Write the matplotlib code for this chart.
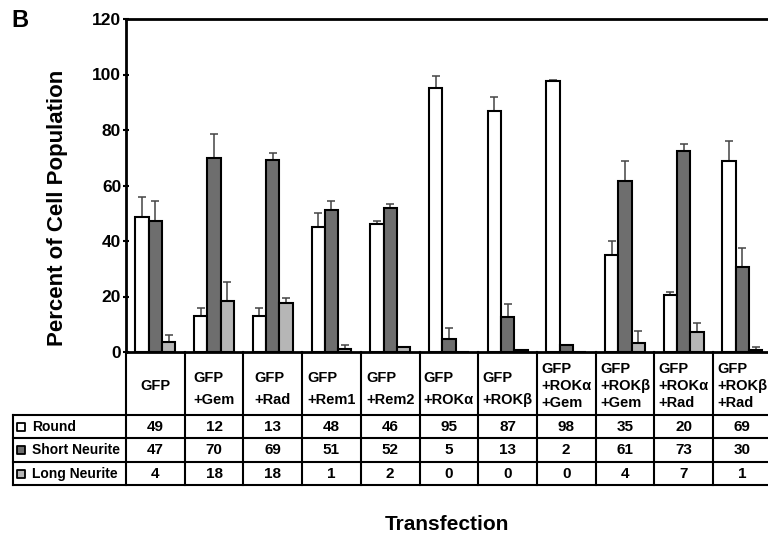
import numpy as np
import matplotlib.pyplot as plt

plt.rcParams['font.family'] = ['Liberation Sans', 'DejaVu Sans']
plt.rcParams['font.weight'] = 'bold'

# Transfection groups (table header)
groups = ['GFP', 'GFP\n+Gem', 'GFP\n+Rad', 'GFP\n+Rem1', 'GFP\n+Rem2',
          'GFP\n+ROKα', 'GFP\n+ROKβ', 'GFP\n+ROKα\n+Gem', 'GFP\n+ROKβ\n+Gem',
          'GFP\n+ROKα\n+Rad', 'GFP\n+ROKβ\n+Rad']
row_names = ['Round', 'Short Neurite', 'Long Neurite']

# table values (percent)
round_pct = [49, 12, 13, 48, 46, 95, 87, 98, 35, 20, 69]
short_pct = [47, 70, 69, 51, 52, 5, 13, 2, 61, 73, 30]
long_pct = [4, 18, 18, 1, 2, 0, 0, 0, 4, 7, 1]

# bar heights as drawn in the figure
round_bar = [48.7, 12.9, 13.0, 45.1, 46.0, 95.1, 86.9, 97.8, 34.9, 20.5, 69.0]
short_bar = [47.3, 69.8, 69.3, 51.2, 51.8, 4.8, 12.6, 2.4, 61.6, 72.6, 30.7]
long_bar = [3.6, 18.4, 17.5, 1.2, 1.8, 0.0, 0.6, 0.0, 3.3, 7.2, 0.6]

# upper error bars
round_err = [7.0, 3.0, 3.0, 5.0, 1.3, 4.5, 5.0, 0.3, 5.0, 1.2, 7.2]
short_err = [7.0, 8.7, 2.4, 3.2, 1.5, 4.0, 4.8, 0.3, 7.2, 2.4, 6.6]
long_err = [2.7, 7.0, 1.8, 1.5, 0.0, 0.0, 0.0, 0.0, 4.3, 3.3, 1.2]

colors = ['white', '#6e6e6e', '#b6b6b6']

W, H = 768, 540
fig = plt.figure(figsize=(W / 100, H / 100), dpi=100)

x_left, col_w = 126, 58.7
n = len(groups)
y_top, y_zero, y_bot = 19, 352, 485.5

ax = fig.add_axes([x_left / W, 1 - y_zero / H, n * col_w / W, (y_zero - y_top) / H])
ax.set_xlim(0, n)
ax.set_ylim(0, 120)

bw = 13.3 / col_w
x = np.arange(n) + 0.5
series = [(round_bar, round_err), (short_bar, short_err), (long_bar, long_err)]
for k, (vals, errs) in enumerate(series):
    xs = x + (k - 1) * bw
    ax.bar(xs, vals, width=bw, color=colors[k], edgecolor='black', linewidth=1.5, zorder=3)
    vals = np.array(vals)
    errs = np.array(errs)
    m = errs > 0
    ax.errorbar(xs[m], vals[m], yerr=[np.zeros(m.sum()), errs[m]], fmt='none',
                ecolor='#444444', elinewidth=1.1, capsize=3, capthick=1.1, zorder=2)

for s in ['left', 'bottom', 'top']:
    ax.spines[s].set_linewidth(2)
ax.spines['right'].set_visible(False)
ax.set_xticks([])
ax.set_yticks(range(0, 121, 20))
ax.tick_params(axis='y', direction='inout', length=5, width=1.5, pad=1, labelsize=12.5)

# table below the bars
tax = fig.add_axes([x_left / W, 1 - y_bot / H, n * col_w / W, (y_bot - y_zero) / H])
tax.set_xlim(0, n)
tax.set_ylim(y_bot, y_zero)
tax.axis('off')

row_lines = [415, 438.5, 462, 485.5]
label_x0 = -(x_left - 12.7) / col_w
lw = 1.5
for i in range(n + 1):
    tax.plot([i, i], [y_zero, y_bot], color='black', lw=lw, clip_on=False)
for yl in row_lines:
    tax.plot([label_x0, n], [yl, yl], color='black', lw=lw, clip_on=False)
tax.plot([label_x0, label_x0], [row_lines[0], row_lines[-1]], color='black', lw=lw, clip_on=False)

for i, g in enumerate(groups):
    nl = g.count('\n') + 1
    if nl == 2:
        ls, yc = 1.7, 389
    else:
        ls, yc = 1.3, 386
    tax.text(i + 0.5, yc, g, ha='center', va='center',
             multialignment='left', linespacing=ls, fontsize=10.5, fontweight='bold')

table_vals = [round_pct, short_pct, long_pct]
for r, vals in enumerate(table_vals):
    yc = (row_lines[r] + row_lines[r + 1]) / 2
    for i, v in enumerate(vals):
        tax.text(i + 0.5, yc, str(v), ha='center', va='center', fontsize=11, fontweight='bold')
    mx = label_x0 + 8.5 / col_w
    tax.scatter([mx], [yc], marker='s', s=38, facecolor=colors[r], edgecolor='black',
                linewidth=1.3, clip_on=False, zorder=4)
    tax.text(label_x0 + 19 / col_w, yc, row_names[r], ha='left', va='center',
             fontsize=10, fontweight='bold', clip_on=False)

fig.text(58 / W, 1 - 208 / H, 'Percent of Cell Population', rotation=90, ha='center',
         va='center', fontsize=16, fontweight='bold')
fig.text(447 / W, 1 - 525 / H, 'Transfection', ha='center', va='center',
         fontsize=15, fontweight='bold')
fig.text(11 / W, 1 - 32 / H, 'B', ha='left', va='bottom', fontsize=17, fontweight='bold')

fig.savefig('out.png', dpi=100)
